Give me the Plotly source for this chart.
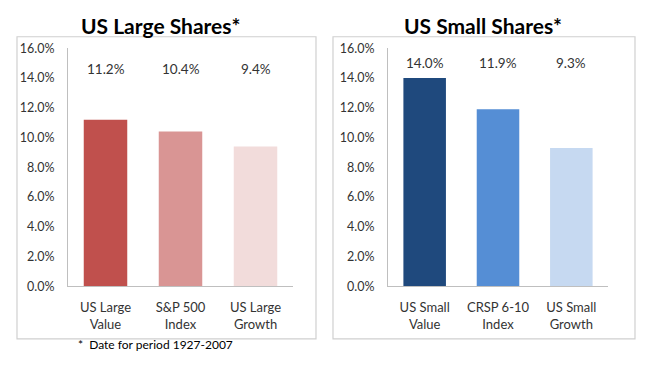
import plotly.graph_objects as go

W, H = 650, 367

large_categories = ["US Large<br>Value", "S&P 500<br>Index", "US Large<br>Growth"]
large_values = [11.2, 10.4, 9.4]
large_colors = ["#C0504D", "#D99594", "#F2DCDB"]

small_categories = ["US Small<br>Value", "CRSP 6-10<br>Index", "US Small<br>Growth"]
small_values = [14.0, 11.9, 9.3]
small_colors = ["#1F497D", "#558ED5", "#C6D9F1"]

tick_values = [0, 2, 4, 6, 8, 10, 12, 14, 16]
tick_labels = [f"{v:.1f}%" for v in tick_values]

FONT = "Lato, Carlito, 'Liberation Sans', sans-serif"
TXT = "#333333"

def px_x(p):
    return p / W

def px_y(p):
    return 1 - p / H

fig = go.Figure()
fig.add_trace(go.Bar(x=large_categories, y=large_values, marker=dict(color=large_colors, line=dict(width=0)),
                     width=0.58, xaxis="x", yaxis="y", hoverinfo="skip"))
fig.add_trace(go.Bar(x=small_categories, y=small_values, marker=dict(color=small_colors, line=dict(width=0)),
                     width=0.58, xaxis="x2", yaxis="y2", hoverinfo="skip"))

yax = dict(range=[0, 16], tickvals=tick_values, ticktext=tick_labels,
           showgrid=False, zeroline=False, showline=True, linecolor="#BFBFBF", linewidth=1,
           ticks="", ticklabelstandoff=10, tickfont=dict(family=FONT, size=12.5, color=TXT),
           domain=[px_y(290), px_y(42)], fixedrange=True)
xax = dict(showgrid=False, zeroline=False, showline=True, linecolor="#BFBFBF", linewidth=1,
           ticks="", ticklabelstandoff=9, tickfont=dict(family=FONT, size=13, color=TXT), fixedrange=True)

fig.update_layout(
    width=W, height=H, margin=dict(l=0, r=0, t=0, b=0),
    paper_bgcolor="white", plot_bgcolor="white", showlegend=False,
    xaxis=dict(xax, domain=[px_x(68), px_x(293)], anchor="y"),
    yaxis=dict(yax, anchor="x"),
    xaxis2=dict(xax, domain=[px_x(388), px_x(608)], anchor="y2"),
    yaxis2=dict(yax, anchor="x2"),
    font=dict(family=FONT, color=TXT),
)

# panel boxes
for x0, x1 in [(17, 316), (333, 635)]:
    fig.add_shape(type="rect", xref="paper", yref="paper",
                  x0=px_x(x0), x1=px_x(x1), y0=px_y(345), y1=px_y(30),
                  line=dict(color="#D0D0D0", width=1.2), fillcolor="rgba(0,0,0,0)", layer="below")

# value labels at fixed height
for cats, vals, xr, yr, ly in [(large_categories, large_values, "x", "y", 14.6),
                               (small_categories, small_values, "x2", "y2", 15.0)]:
    for c, v in zip(cats, vals):
        fig.add_annotation(x=c, y=ly, xref=xr, yref=yr, text=f"{v:.1f}%", showarrow=False,
                           xanchor="center", yanchor="middle",
                           font=dict(family=FONT, size=13.5, color=TXT))

# titles
for cx, t in [(160, "US Large Shares*"), (483, "US Small Shares*")]:
    fig.add_annotation(x=px_x(cx), y=px_y(33), xref="paper", yref="paper", text=f"<b>{t}</b>",
                       showarrow=False, xanchor="center", yanchor="bottom",
                       font=dict(family=FONT, size=21, color="black"))

# footnote
fig.add_annotation(x=px_x(76), y=px_y(351), xref="paper", yref="paper", xanchor="left", yanchor="middle",
                   text="*  Date for period 1927-2007", showarrow=False,
                   font=dict(family=FONT, size=12, color="black"))

fig.write_html("out.html", config={"displayModeBar": False},
               post_script="document.body.style.margin='0';")
